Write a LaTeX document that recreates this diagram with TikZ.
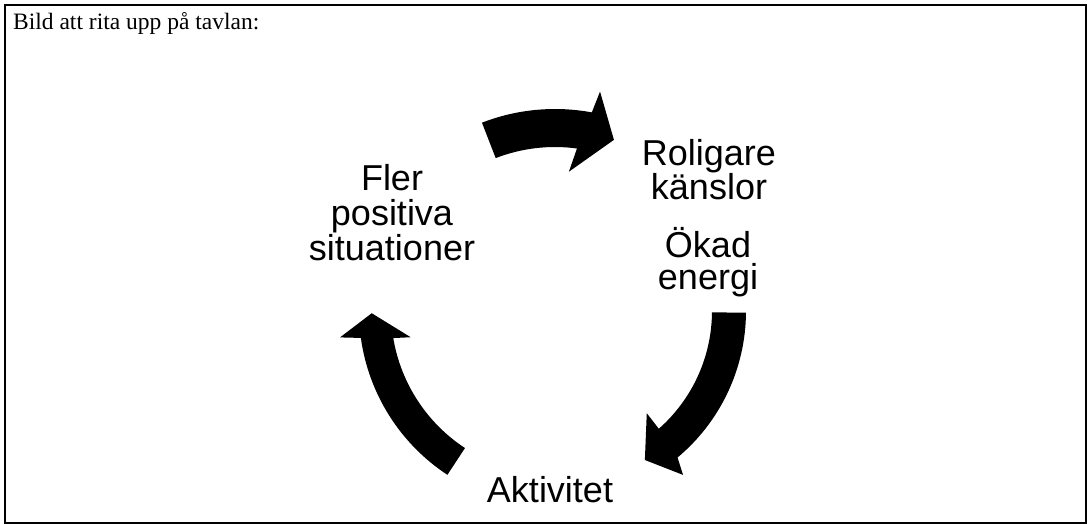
\documentclass[tikz,border=0pt]{standalone}
\usepackage{fontspec}
\setmainfont{Liberation Serif}
\newfontfamily\cyclefont{Liberation Sans}
\usetikzlibrary{calc}
\begin{document}
\begin{tikzpicture}[x=1pt,y=1pt,
  cycletext/.style={font=\cyclefont\fontsize{36}{32}\selectfont, align=center, inner sep=0pt, anchor=north},
  blockarrow/.style={fill=black, draw=none},
  frame/.style={draw=black, line width=2.5pt}]
  \useasboundingbox (0,0) rectangle (1087,-524);
  \draw[frame] (5,-5) rectangle (1086,-523);

  \node[font=\fontsize{23.5}{28}\selectfont, anchor=base west, inner sep=0pt] (title) at (13,-30) {Bild att rita upp på tavlan:};

  % centre of the cycle
  \coordinate (C) at (555,-311);

  % top arrow: towards "Roligare känslor"
  \fill[blockarrow] ($(C)+(111.2:202)$) arc[start angle=111.2, end angle=79.5, radius=202pt]
    -- ($(C)+(78.4:224)$) -- ($(C)+(71:181)$) -- ($(C)+(84.3:140)$) -- ($(C)+(82.3:164)$)
    arc[start angle=82.3, end angle=111.2, radius=164pt] -- cycle;

  % right arrow: towards "Aktivitet"
  \fill[blockarrow] ($(C)+(-0.5:191)$) arc[start angle=-0.5, end angle=-50.1, radius=191pt]
    -- ($(C)+(-52:208)$) -- ($(C)+(-58.9:174)$) -- ($(C)+(-48.1:137.4)$) -- ($(C)+(-48.6:157)$)
    arc[start angle=-48.6, end angle=-0.5, radius=157pt] -- cycle;

  % left arrow: towards "Fler positiva situationer"
  \fill[blockarrow] ($(C)+(236.7:196)$) arc[start angle=236.7, end angle=187.9, radius=196pt]
    -- ($(C)+(187:216.6)$) -- ($(C)+(180.7:183.3)$) -- ($(C)+(190.3:146.7)$) -- ($(C)+(189.5:164)$)
    arc[start angle=189.5, end angle=236.7, radius=164pt] -- cycle;

  \node[cycletext, font=\cyclefont\fontsize{36}{35}\selectfont] (fler) at (392,-164) {Fler\\positiva\\situationer};
  \node[cycletext] (roligare) at (709,-139) {Roligare\\känslor};
  \node[cycletext] (okad) at (708,-227) {Ökad\\energi};
  \node[cycletext] (aktivitet) at (550,-476) {Aktivitet};
\end{tikzpicture}
\end{document}
